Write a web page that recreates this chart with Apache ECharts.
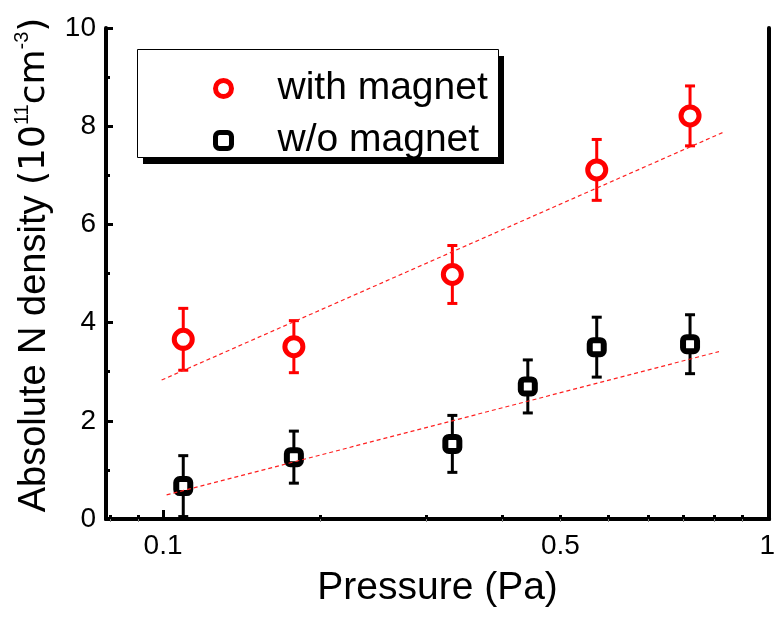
<!DOCTYPE html>
<html><head><meta charset="utf-8">
<script src="https://cdn.jsdelivr.net/npm/echarts@6/dist/echarts.min.js"></script>
<style>html,body{margin:0;padding:0;background:#fff}#c{width:778px;height:617px}</style>
</head><body><div id="c"></div>
<script>
// ---- data ----
const pressureMag = [0.1188, 0.1811, 0.3313, 0.5744, 0.8197];
const densityMag  = [3.66, 3.51, 4.98, 7.11, 8.21];
const errMag      = [0.63, 0.53, 0.59, 0.62, 0.61];
const pressureNo  = [0.1188, 0.1811, 0.3313, 0.4417, 0.5744, 0.8197];
const densityNo   = [0.67, 1.26, 1.53, 2.70, 3.50, 3.56];
const errNo       = [0.62, 0.53, 0.58, 0.54, 0.61, 0.60];
const fitMagX = [0.1094, 0.9277];
const fitMagY = [2.83, 7.87];
const fitNoX  = [0.1115, 0.9153];
const fitNoY  = [0.49, 3.41];
const xTickValues  = [0.09, 0.1, 0.2, 0.3, 0.4, 0.5, 0.6, 0.7, 0.8, 0.9, 1.0];
const xLabelValues = [0.11, 0.5, 1.1];
const xLabelTexts  = ['0.1', '0.5', '1'];
const xMarkTick    = [0.11];
const xMin = 0.0885, xMax = 1.108;
const yMin = 0, yMax = 10, yInterval = 2;
const seriesNames = ['with magnet', 'w/o magnet'];

const FONT = 'Liberation Sans, Arial, sans-serif';
const zip3 = (a, b, c) => a.map((v, i) => [v, b[i], c[i]]);
const zip2 = (a, b) => a.map((v, i) => [v, b[i]]);

function errRender(color) {
  return function (params, api) {
    const x = api.value(0), y = api.value(1), e = api.value(2);
    const top = api.coord([x, y + e]);
    const bot = api.coord([x, y - e]);
    const hw = 5;
    const st = { stroke: color, lineWidth: 3 };
    return { type: 'group', children: [
      { type: 'line', shape: { x1: top[0], y1: top[1], x2: bot[0], y2: bot[1] }, style: st },
      { type: 'line', shape: { x1: top[0] - hw, y1: top[1], x2: top[0] + hw, y2: top[1] }, style: st },
      { type: 'line', shape: { x1: bot[0] - hw, y1: bot[1], x2: bot[0] + hw, y2: bot[1] }, style: st }
    ]};
  };
}

const chart = echarts.init(document.getElementById('c'), null, { renderer: 'canvas' });
const gridRect = { left: 106, right: 8, top: 28, bottom: 98 };

chart.setOption({
  animation: false,
  backgroundColor: '#fff',
  textStyle: { fontFamily: FONT, color: '#000' },
  grid: [Object.assign({}, gridRect), Object.assign({}, gridRect)],
  graphic: [
    { type: 'rect', z: 8, silent: true, shape: { x: 143, y: 56, width: 361, height: 108 }, style: { fill: '#000' } },
    { type: 'rect', z: 9, silent: true, shape: { x: 137.5, y: 49.5, width: 361, height: 108 }, style: { fill: '#fff', stroke: '#000', lineWidth: 1 } }
  ],
  legend: {
    z: 10,
    data: seriesNames,
    orient: 'vertical',
    left: 213, top: 69,
    padding: 0,
    itemGap: 13,
    itemWidth: 16, itemHeight: 16,
    itemStyle: { borderWidth: 5 },
    textStyle: { fontSize: 39, color: '#000', fontFamily: FONT, padding: [0, 0, 0, 41] }
  },
  xAxis: [
    {
      type: 'log', logBase: 10, min: xMin, max: xMax, gridIndex: 0, position: 'bottom',
      axisLine: { show: true, lineStyle: { color: '#000', width: 4 } },
      axisTick: { show: true, inside: true, length: 4, customValues: xTickValues, lineStyle: { color: '#000', width: 3 } },
      axisLabel: {
        customValues: xLabelValues, fontSize: 28, color: '#000', margin: 13, fontFamily: FONT,
        formatter: function (v) {
          let best = 0;
          xLabelValues.forEach((lv, i) => { if (Math.abs(lv - v) < Math.abs(xLabelValues[best] - v)) best = i; });
          return xLabelTexts[best];
        }
      },
      splitLine: { show: false },
      name: 'Pressure (Pa)', nameLocation: 'middle', nameGap: 50,
      nameTextStyle: { fontSize: 39, color: '#000', fontFamily: FONT }
    },
    {
      type: 'log', logBase: 10, min: xMin, max: xMax, gridIndex: 0, position: 'top',
      axisLine: { show: true, lineStyle: { color: '#000', width: 4 } },
      axisTick: { show: true, inside: true, length: 3, customValues: xTickValues, lineStyle: { color: '#888', width: 1 } },
      axisLabel: { show: false },
      splitLine: { show: false }
    },
    {
      type: 'log', logBase: 10, min: xMin, max: xMax, gridIndex: 1, position: 'bottom',
      axisLine: { show: false },
      axisTick: { show: true, inside: true, length: 9, customValues: xMarkTick, lineStyle: { color: '#000', width: 3 } },
      axisLabel: { show: false },
      splitLine: { show: false }
    }
  ],
  yAxis: [
    {
      type: 'value', min: yMin, max: yMax, interval: yInterval, gridIndex: 0, position: 'left',
      axisLine: { show: true, lineStyle: { color: '#000', width: 4 } },
      axisTick: { show: true, inside: true, length: 7, lineStyle: { color: '#000', width: 3 } },
      minorTick: { show: true, splitNumber: 2, length: 4, lineStyle: { color: '#000', width: 3 } },
      axisLabel: { fontSize: 28, color: '#000', margin: 10, fontFamily: FONT },
      splitLine: { show: false },
      name: '{a|Absolute N density }{b|(10}{s|11}{b|cm}{s|-3}{b|)}',
      nameLocation: 'middle', nameGap: 46, nameRotate: 90,
      nameTextStyle: {
        padding: [0, 0, 0, 17],
        rich: {
          a: { fontSize: 38, fontFamily: FONT, color: '#000', lineHeight: 44 },
          b: { fontSize: 36, fontFamily: 'DejaVu Sans', color: '#000', lineHeight: 44 },
          s: { fontSize: 20, fontFamily: FONT, color: '#000', lineHeight: 22, verticalAlign: 'top' }
        }
      }
    },
    {
      type: 'value', min: yMin, max: yMax, interval: yInterval, gridIndex: 0, position: 'right',
      axisLine: { show: true, lineStyle: { color: '#000', width: 4 } },
      axisTick: { show: false }, axisLabel: { show: false }, splitLine: { show: false }
    },
    {
      type: 'value', min: yMin, max: yMax, gridIndex: 1, show: false
    }
  ],
  series: [
    {
      type: 'custom', name: 'err-mag', xAxisIndex: 0, yAxisIndex: 0, z: 2,
      renderItem: errRender('#ff0000'), encode: { x: 0, y: 1 },
      data: zip3(pressureMag, densityMag, errMag), silent: true
    },
    {
      type: 'custom', name: 'err-no', xAxisIndex: 0, yAxisIndex: 0, z: 2,
      renderItem: errRender('#000000'), encode: { x: 0, y: 1 },
      data: zip3(pressureNo, densityNo, errNo), silent: true
    },
    {
      type: 'line', name: 'fit-mag', xAxisIndex: 0, yAxisIndex: 0, z: 5,
      data: zip2(fitMagX, fitMagY), symbol: 'none', silent: true,
      lineStyle: { color: '#ff2020', width: 1.2, type: [4, 3] }
    },
    {
      type: 'line', name: 'fit-no', xAxisIndex: 0, yAxisIndex: 0, z: 5,
      data: zip2(fitNoX, fitNoY), symbol: 'none', silent: true,
      lineStyle: { color: '#ff2020', width: 1.2, type: [4, 3] }
    },
    {
      type: 'scatter', name: seriesNames[0], xAxisIndex: 0, yAxisIndex: 0, z: 4,
      data: zip2(pressureMag, densityMag),
      symbol: 'circle', symbolSize: 18,
      itemStyle: { color: '#fff', borderColor: '#ff0000', borderWidth: 5, opacity: 1 }
    },
    {
      type: 'scatter', name: seriesNames[1], xAxisIndex: 0, yAxisIndex: 0, z: 4,
      data: zip2(pressureNo, densityNo),
      symbol: 'roundRect', symbolSize: 14,
      itemStyle: { color: '#fff', borderColor: '#000', borderWidth: 6, opacity: 1 }
    }
  ]
});
</script>
</body></html>
